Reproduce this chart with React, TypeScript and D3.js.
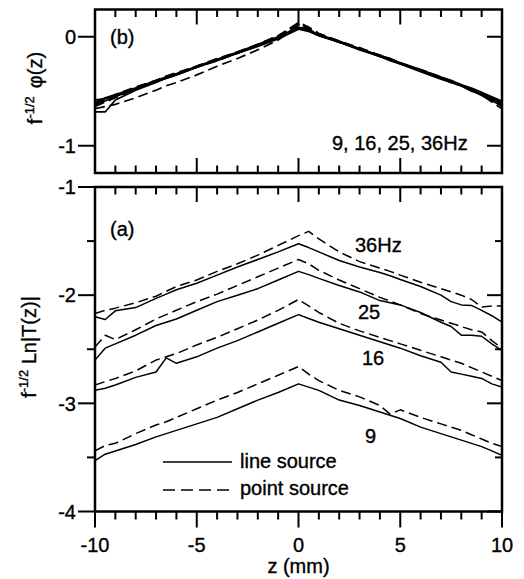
import React from 'react';
import * as d3 from 'd3';

// z positions (mm) shared by every series
const zGrid = [-10, -9.5, -9, -8, -7, -6.5, -6, -5, -4, -3, -2, -1, 0, 0.5, 1, 2, 3, 4, 4.5, 5, 6, 7, 7.5, 8, 8.5, 9, 9.5, 10];

// (a) f^-1/2 Ln|T(z)|
const lineSrc36 = [-2.20, -2.225, -2.145, -2.115, -2.03, -1.99, -1.95, -1.89, -1.815, -1.74, -1.67, -1.60, -1.525, -1.56, -1.60, -1.68, -1.74, -1.79, -1.82, -1.855, -1.92, -2.00, -2.06, -2.09, -2.095, -2.14, -2.19, -2.25];
const pointSrc36 = [-2.17, -2.14, -2.12, -2.07, -2.01, -1.965, -1.92, -1.86, -1.78, -1.71, -1.63, -1.54, -1.45, -1.41, -1.48, -1.60, -1.69, -1.75, -1.78, -1.815, -1.88, -1.94, -1.97, -2.00, -2.04, -2.11, -2.10, -2.10];
const lineSrc25 = [-2.60, -2.49, -2.45, -2.37, -2.28, -2.25, -2.22, -2.14, -2.06, -2.00, -1.94, -1.86, -1.78, -1.81, -1.845, -1.91, -1.97, -2.05, -2.07, -2.09, -2.16, -2.25, -2.29, -2.37, -2.37, -2.38, -2.45, -2.51];
const pointSrc25 = [-2.48, -2.37, -2.41, -2.32, -2.22, -2.18, -2.14, -2.06, -1.99, -1.91, -1.83, -1.75, -1.67, -1.71, -1.77, -1.86, -1.94, -2.02, -2.055, -2.09, -2.17, -2.23, -2.26, -2.29, -2.32, -2.34, -2.42, -2.49];
const lineSrc16 = [-2.88, -2.86, -2.83, -2.76, -2.71, -2.58, -2.63, -2.57, -2.49, -2.42, -2.34, -2.26, -2.18, -2.215, -2.25, -2.31, -2.37, -2.43, -2.46, -2.49, -2.56, -2.62, -2.71, -2.73, -2.75, -2.77, -2.82, -2.85];
const pointSrc16 = [-2.83, -2.80, -2.77, -2.70, -2.60, -2.57, -2.54, -2.46, -2.39, -2.31, -2.23, -2.14, -2.04, -2.10, -2.16, -2.26, -2.33, -2.39, -2.42, -2.45, -2.51, -2.57, -2.60, -2.63, -2.67, -2.71, -2.75, -2.79];
const lineSrc9 = [-3.53, -3.47, -3.44, -3.38, -3.31, -3.28, -3.25, -3.19, -3.13, -3.05, -2.97, -2.90, -2.82, -2.85, -2.88, -2.97, -3.02, -3.08, -3.11, -3.14, -3.22, -3.28, -3.31, -3.34, -3.37, -3.40, -3.44, -3.48];
const pointSrc9 = [-3.44, -3.39, -3.37, -3.28, -3.20, -3.17, -3.13, -3.05, -2.97, -2.90, -2.82, -2.74, -2.66, -2.73, -2.79, -2.88, -2.94, -3.02, -3.10, -3.06, -3.13, -3.19, -3.22, -3.25, -3.29, -3.33, -3.37, -3.40];

// (b) f^-1/2 phi(z)
const phaseLine9 = [-0.62, -0.59, -0.55, -0.48, -0.41, -0.38, -0.35, -0.28, -0.22, -0.15, -0.09, -0.02, 0.07, 0.05, 0.01, -0.05, -0.11, -0.18, -0.21, -0.24, -0.31, -0.38, -0.41, -0.45, -0.48, -0.52, -0.56, -0.60];
const phaseLine16 = [-0.69, -0.69, -0.58, -0.49, -0.42, -0.38, -0.35, -0.28, -0.21, -0.15, -0.08, -0.01, 0.08, 0.06, 0.02, -0.05, -0.12, -0.18, -0.22, -0.25, -0.32, -0.39, -0.42, -0.45, -0.49, -0.54, -0.59, -0.63];
const phaseLine25 = [-0.60, -0.56, -0.53, -0.47, -0.40, -0.37, -0.34, -0.27, -0.21, -0.14, -0.07, 0.00, 0.09, 0.06, 0.02, -0.04, -0.11, -0.17, -0.20, -0.24, -0.30, -0.37, -0.40, -0.44, -0.47, -0.51, -0.55, -0.59];
const phaseLine36 = [-0.58, -0.57, -0.54, -0.47, -0.41, -0.37, -0.34, -0.28, -0.21, -0.15, -0.08, -0.01, 0.08, 0.05, 0.01, -0.05, -0.11, -0.18, -0.21, -0.25, -0.31, -0.38, -0.42, -0.45, -0.50, -0.53, -0.57, -0.62];
const phasePoint9 = [-0.66, -0.64, -0.62, -0.56, -0.49, -0.45, -0.42, -0.35, -0.27, -0.20, -0.12, -0.03, 0.10, 0.07, 0.02, -0.05, -0.11, -0.18, -0.21, -0.24, -0.31, -0.38, -0.41, -0.45, -0.49, -0.53, -0.60, -0.66];
const phasePoint16 = [-0.64, -0.60, -0.56, -0.48, -0.41, -0.38, -0.35, -0.28, -0.22, -0.15, -0.08, 0.00, 0.12, 0.08, 0.03, -0.04, -0.10, -0.17, -0.21, -0.24, -0.31, -0.37, -0.41, -0.44, -0.48, -0.52, -0.56, -0.61];
const phasePoint25 = [-0.61, -0.58, -0.53, -0.46, -0.40, -0.36, -0.33, -0.27, -0.20, -0.14, -0.07, 0.01, 0.11, 0.07, 0.02, -0.05, -0.11, -0.17, -0.21, -0.24, -0.30, -0.37, -0.41, -0.45, -0.48, -0.52, -0.57, -0.62];
const phasePoint36 = [-0.63, -0.58, -0.54, -0.47, -0.41, -0.37, -0.34, -0.27, -0.21, -0.14, -0.07, 0.01, 0.13, 0.09, 0.03, -0.04, -0.11, -0.17, -0.20, -0.24, -0.31, -0.38, -0.42, -0.45, -0.49, -0.53, -0.58, -0.64];

const bottomSolid = [lineSrc36, lineSrc25, lineSrc16, lineSrc9];
const bottomDashed = [pointSrc36, pointSrc25, pointSrc16, pointSrc9];
const topSolid = [phaseLine9, phaseLine16, phaseLine25, phaseLine36];
const topDashed = [phasePoint9, phasePoint16, phasePoint25, phasePoint36];

const xTickValues = [-10, -5, 0, 5, 10];
const xMinorValues = d3.range(-10, 10.5, 1);
const topYTicks = [0, -1];
const bottomYTicks = [-1, -2, -3, -4];
const bottomYMinor = [-1.5, -2.5, -3.5];
const curveLabels = ['36Hz', '25', '16', '9'];

const W = 524;
const H = 579;
const FONT = "'Liberation Sans', Arial, Helvetica, sans-serif";

export default function App() {
  const x = d3.scaleLinear().domain([-10, 10]).range([95, 502]);
  const yTop = d3.scaleLinear().domain([-1.25, 0.25]).range([173, 9.5]);
  const yBot = d3.scaleLinear().domain([-4, -1]).range([511.5, 187]);

  const lineTop = d3.line<number>().x((_, i) => x(zGrid[i])).y((d) => yTop(d));
  const lineBot = d3.line<number>().x((_, i) => x(zGrid[i])).y((d) => yBot(d));

  const [x0, x1] = x.range();
  const topY0 = yTop.range()[1];
  const topY1 = yTop.range()[0];
  const botY0 = yBot.range()[1];
  const botY1 = yBot.range()[0];

  const isMajor = (z: number) => Math.abs(z % 5) < 1e-6;
  const ticks: JSX.Element[] = [];
  xMinorValues.forEach((z, i) => {
    const len = isMajor(z) ? 15 : 7.5;
    const px = x(z);
    ticks.push(<line key={`tt${i}`} x1={px} x2={px} y1={topY0} y2={topY0 + len} />);
    ticks.push(<line key={`tb${i}`} x1={px} x2={px} y1={topY1} y2={topY1 - len} />);
    ticks.push(<line key={`bt${i}`} x1={px} x2={px} y1={botY0} y2={botY0 + len} />);
    ticks.push(<line key={`bb${i}`} x1={px} x2={px} y1={botY1} y2={botY1 + (isMajor(z) ? 16 : 8)} />);
  });
  topYTicks.forEach((v, i) => {
    const py = yTop(v);
    ticks.push(<line key={`tl${i}`} x1={x0 - 17} x2={x0} y1={py} y2={py} />);
    ticks.push(<line key={`tr${i}`} x1={x1 - 15} x2={x1} y1={py} y2={py} />);
  });
  bottomYTicks.forEach((v, i) => {
    const py = yBot(v);
    ticks.push(<line key={`bl${i}`} x1={x0 - 17} x2={x0} y1={py} y2={py} />);
    ticks.push(<line key={`br${i}`} x1={x1 - 15} x2={x1} y1={py} y2={py} />);
  });
  bottomYMinor.forEach((v, i) => {
    const py = yBot(v);
    ticks.push(<line key={`blm${i}`} x1={x0 - 8} x2={x0} y1={py} y2={py} />);
    ticks.push(<line key={`brm${i}`} x1={x1 - 7} x2={x1} y1={py} y2={py} />);
  });

  const labelPos = [
    { x: 355, y: 252 },
    { x: 358, y: 318.5 },
    { x: 362, y: 365 },
    { x: 365, y: 443 },
  ];

  return (
    <svg width={W} height={H} viewBox={`0 0 ${W} ${H}`} style={{ position: 'absolute', left: 0, top: 0, background: '#fff' }} fontFamily={FONT}>
      <defs>
        <clipPath id="clipTop">
          <rect x={x0} y={topY0} width={x1 - x0} height={topY1 - topY0} />
        </clipPath>
        <clipPath id="clipBot">
          <rect x={x0} y={botY0} width={x1 - x0} height={botY1 - botY0} />
        </clipPath>
      </defs>
      <rect x={0} y={0} width={W} height={H} fill="#fff" />

      <g clipPath="url(#clipTop)" fill="none" stroke="#000" strokeWidth={1.7} strokeLinejoin="round">
        {topSolid.map((s, i) => (
          <path key={`ts${i}`} d={lineTop(s) || ''} />
        ))}
        {topDashed.map((s, i) => (
          <path key={`td${i}`} d={lineTop(s) || ''} strokeDasharray="10,5" />
        ))}
      </g>

      <g clipPath="url(#clipBot)" fill="none" stroke="#000" strokeWidth={1.5} strokeLinejoin="round">
        {bottomSolid.map((s, i) => (
          <path key={`bs${i}`} d={lineBot(s) || ''} />
        ))}
        {bottomDashed.map((s, i) => (
          <path key={`bd${i}`} d={lineBot(s) || ''} strokeDasharray="10,5" />
        ))}
      </g>

      <g fill="none" stroke="#000" strokeWidth={2.5}>
        <rect x={x0} y={topY0} width={x1 - x0} height={topY1 - topY0} />
        <rect x={x0} y={botY0} width={x1 - x0} height={botY1 - botY0} />
      </g>
      <g stroke="#000" strokeWidth={2}>{ticks}</g>

      <g fontSize={20} fill="#000" stroke="#000" strokeWidth={0.35}>
        {topYTicks.map((v) => (
          <text key={`tyl${v}`} x={76} y={yTop(v)} dy="0.36em" textAnchor="end">{String(v)}</text>
        ))}
        {bottomYTicks.map((v) => (
          <text key={`byl${v}`} x={76} y={yBot(v)} dy="0.36em" textAnchor="end">{String(v)}</text>
        ))}
        {xTickValues.map((z) => (
          <text key={`xl${z}`} x={x(z)} y={552} textAnchor="middle">{String(z)}</text>
        ))}
        <text x={x(0)} y={573} textAnchor="middle">z (mm)</text>

        <text x={110} y={44}>(b)</text>
        <text x={332} y={150}>9, 16, 25, 36Hz</text>
        <text x={110} y={236}>(a)</text>
        {curveLabels.map((t, i) => (
          <text key={`cl${i}`} x={labelPos[i].x} y={labelPos[i].y}>{t}</text>
        ))}

        <text transform="rotate(-90)" x={-88} y={42} textAnchor="middle">
          <tspan>f</tspan>
          <tspan dy={-8} fontSize={13}>-1/2</tspan>
          <tspan dy={8} dx={8}>φ(z)</tspan>
        </text>
        <text transform="rotate(-90)" x={-347} y={36} textAnchor="middle">
          <tspan>f</tspan>
          <tspan dy={-8} fontSize={13}>-1/2</tspan>
          <tspan dy={8}> Ln|T(z)|</tspan>
        </text>

        <line x1={163} x2={232} y1={462} y2={462} stroke="#000" strokeWidth={1.6} />
        <text x={240} y={468}>line source</text>
        <line x1={163} x2={232} y1={490} y2={490} stroke="#000" strokeWidth={1.6} strokeDasharray="12,6" />
        <text x={240} y={495}>point source</text>
      </g>
    </svg>
  );
}
